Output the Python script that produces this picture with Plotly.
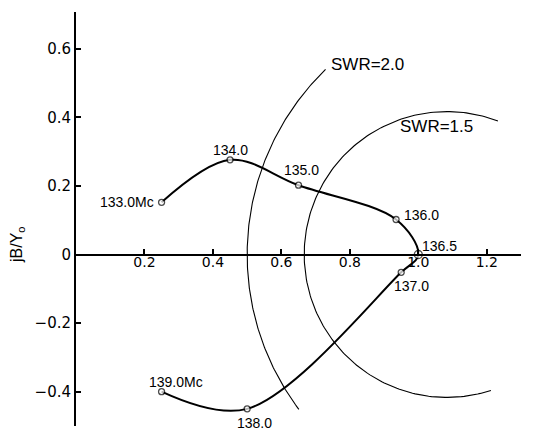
import numpy as np
import plotly.graph_objects as go

# Measured admittance locus
freq_labels = ["133.0Mc", "134.0", "135.0", "136.0", "136.5", "137.0", "138.0", "139.0Mc"]
g_vals = [0.25, 0.45, 0.65, 0.935, 1.0, 0.95, 0.50, 0.25]
b_vals = [0.152, 0.276, 0.202, 0.102, 0.0, -0.052, -0.45, -0.40]

# Constant-SWR circles (partial arcs, angle range in degrees)
swr_values = [2.0, 1.5]
swr_arc_start = [134, 69]
swr_arc_end = [217, 288]

x_ticks = [0.2, 0.4, 0.6, 0.8, 1.0, 1.2]
x_tick_text = ["0.2", "0.4", "0.6", "0.8", "1.0", "1.2"]
y_ticks = [-0.4, -0.2, 0, 0.2, 0.4, 0.6]
y_tick_text = ["\u22120.4", "\u22120.2", "0", "0.2", "0.4", "0.6"]

FONT = "Liberation Sans"
TICKFONT = "DejaVu Sans"
fig = go.Figure()

for swr, a0, a1 in zip(swr_values, swr_arc_start, swr_arc_end):
    gam = (swr - 1) / (swr + 1)
    c = (1 + gam**2) / (1 - gam**2)
    r = 2 * gam / (1 - gam**2)
    th = np.radians(np.linspace(a0, a1, 200))
    fig.add_trace(go.Scatter(x=c + r * np.cos(th), y=r * np.sin(th), mode="lines",
                             line=dict(color="black", width=1.1), hoverinfo="skip",
                             showlegend=False))

fig.add_trace(go.Scatter(x=g_vals, y=b_vals, mode="lines",
                         line=dict(color="black", width=2, shape="spline", smoothing=1.0),
                         showlegend=False, hoverinfo="skip"))
marker_sizes = [6, 6, 6, 6, 8, 6, 6, 6]
fig.add_trace(go.Scatter(x=g_vals, y=b_vals, mode="markers",
                         marker=dict(size=marker_sizes, color="white",
                                     line=dict(color="black", width=1.3)),
                         showlegend=False))

# point labels: (dx, dy, anchor)
label_pos = [
    (-0.015, 0.0, "right", "middle"),
    (0.0, 0.03, "center", "middle"),
    (0.01, 0.045, "center", "middle"),
    (0.018, 0.012, "left", "middle"),
    (0.006, 0.025, "left", "middle"),
    (0.03, -0.04, "center", "middle"),
    (0.022, -0.04, "center", "middle"),
    (0.043, 0.029, "center", "middle"),
]
for lbl, g, b, (dx, dy, xa, ya) in zip(freq_labels, g_vals, b_vals, label_pos):
    fig.add_annotation(x=g + dx, y=b + dy, text=lbl, showarrow=False,
                       xanchor=xa, yanchor=ya,
                       font=dict(family=FONT, size=14, color="black"))

fig.add_annotation(x=0.74, y=0.553, text="SWR=2.0", showarrow=False, xanchor="left",
                   yanchor="middle", font=dict(family=FONT, size=17, color="black"))
fig.add_annotation(x=1.053, y=0.372, text="SWR=1.5", showarrow=False, xanchor="center",
                   yanchor="middle", font=dict(family=FONT, size=17, color="black"))
fig.add_annotation(x=1.31, y=-0.008, text="G/Y<sub>o</sub>", showarrow=False, xanchor="left",
                   yanchor="middle", font=dict(family=FONT, size=17, color="black"))
fig.add_annotation(xref="paper", x=-0.133, y=0.03, text="jB/Y<sub>o</sub>", showarrow=False,
                   textangle=-90, xanchor="center", yanchor="middle",
                   font=dict(family=FONT, size=16, color="black"))

y_min, y_max = -0.5, 0.707
fig.update_layout(
    width=559, height=431,
    margin=dict(l=68, r=46, t=4, b=13),
    paper_bgcolor="white", plot_bgcolor="white",
    xaxis=dict(range=[0, 1.3], showgrid=False, zeroline=False, showline=True,
               linecolor="black", linewidth=2, anchor="free", automargin=False,
               position=(0 - y_min) / (y_max - y_min),
               ticks="inside", ticklen=5, tickwidth=1.5, tickcolor="black",
               ticklabelstandoff=-5,
               tickvals=x_ticks, ticktext=x_tick_text,
               tickfont=dict(family=TICKFONT, size=14, color="black")),
    yaxis=dict(range=[y_min, y_max], showgrid=False, zeroline=False, showline=True,
               linecolor="black", linewidth=2, automargin=False,
               ticks="inside", ticklen=5, tickwidth=1.5, tickcolor="black",
               ticklabelstandoff=0,
               tickvals=y_ticks, ticktext=y_tick_text,
               tickfont=dict(family=TICKFONT, size=15, color="black")),
)
fig.write_html("out.html")
